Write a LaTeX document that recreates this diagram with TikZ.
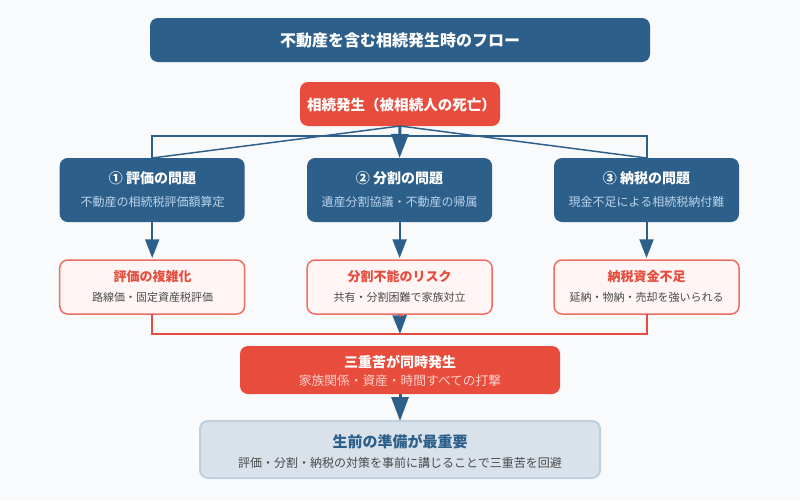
\documentclass[tikz,border=0pt]{standalone}
\usepackage{fontspec}
\setmainfont{Noto Sans CJK JP}
\usetikzlibrary{arrows.meta}
\definecolor{bgc}{HTML}{F8FAFC}
\definecolor{navy}{HTML}{2C5F8A}
\definecolor{redc}{HTML}{E74C3C}
\definecolor{pinkf}{HTML}{FFF5F5}
\definecolor{pinkb}{HTML}{EE6F62}
\definecolor{greyf}{HTML}{D9E2EA}
\definecolor{greyb}{HTML}{BFD0DE}
\definecolor{subblue}{HTML}{BBD3EA}
\definecolor{subred}{HTML}{FFCFC9}
\definecolor{subdark}{HTML}{4A4A4A}
\tikzset{
  box/.style 2 args={minimum width=#1*0.75pt,minimum height=#2*0.75pt,inner sep=0pt,outer sep=0pt,rounded corners=6pt},
  navybox/.style={fill=navy},
  redbox/.style={fill=redc},
  pinkbox/.style={fill=pinkf,draw=pinkb,line width=1.5pt*0.75},
  greybox/.style={fill=greyf,draw=greyb,line width=2pt*0.75},
  txt/.style={anchor=base,inner sep=0pt,outer sep=0pt},
  f16/.style={font=\fontsize{12}{14}\selectfont\bfseries},
  f15/.style={font=\fontsize{11.25}{14}\selectfont\bfseries},
  f145/.style={font=\fontsize{10.9}{14}\selectfont\bfseries},
  f14/.style={font=\fontsize{10.5}{14}\selectfont\bfseries},
  f13/.style={font=\fontsize{9.75}{14}\selectfont\bfseries},
  s13/.style={font=\fontsize{9.55}{14}\selectfont},
  s12/.style={font=\fontsize{9}{14}\selectfont},
  s11/.style={font=\fontsize{8.25}{14}\selectfont},
  bigarrow/.style={draw=navy,line width=2.25pt,-{Triangle[length=18pt,width=12.75pt]}},
  smallarrow/.style={draw=navy,line width=1.5pt,-{Triangle[length=14pt,width=10.5pt]}},
  joinarrow/.style={draw=navy,line width=1.5pt,-{Triangle[length=14pt,width=10.5pt]}},
  busline/.style={draw=navy,line width=1.5pt},
  diagline/.style={draw=navy,line width=1.1pt},
  redline/.style={draw=redc,line width=1.5pt},
}
\begin{document}
\begin{tikzpicture}[x=0.75pt,y=-0.75pt]
\useasboundingbox (0,0) rectangle (800,500);
\fill[bgc] (0,0) rectangle (800,500);

% boxes
\node[box={500}{44},navybox] (title) at (400,40) {};
\node[box={200}{44},redbox] (start) at (400,104) {};
\node[box={185}{64},navybox] (p1) at (152.2,190) {};
\node[box={185}{64},navybox] (p2) at (399.6,190) {};
\node[box={185}{64},navybox] (p3) at (646.5,190) {};
\node[box={185}{54},pinkbox] (r1) at (152.2,287) {};
\node[box={185}{54},pinkbox] (r2) at (399.6,287) {};
\node[box={185}{54},pinkbox] (r3) at (646.5,287) {};
\node[box={320}{48},redbox] (triple) at (400,370) {};
\node[box={400}{57},greybox] (prep) at (400,449.5) {};

% coordinates
\coordinate (bus) at (400,136);
\coordinate (join) at (400,334);

% connectors from the start
\draw[busline] (p1.north) |- (bus) -| (p3.north);
\draw[diagline] (start.south) -- (p1.north);
\draw[diagline] (start.south) -- (p3.north);
\draw[bigarrow] (start.south) -- (p2.north);

% to risks
\draw[smallarrow,shorten >=1.5pt] (p1.south) -- (r1.north);
\draw[smallarrow,shorten >=1.5pt] (p2.south) -- (r2.north);
\draw[smallarrow,shorten >=1.5pt] (p3.south) -- (r3.north);

% to triple
\draw[redline] (r1.south) |- (join) -| (r3.south);
\draw[joinarrow] (r2.south) -- (join);
\draw[redline] (r2.south) -- ++(0,3);
\draw[bigarrow] (triple.south) -- (prep.north);

% text
\node[txt,f16,text=white] (tTitle) at (400,46.2) {不動産を含む相続発生時のフロー};
\node[txt,f145,text=white] (tStart) at (401.5,110) {相続発生（被相続人の死亡）};

\node[txt,f14,text=white] (t1a) at (152.5,183) {① 評価の問題};
\node[txt,s12,text=subblue] (t1b) at (152.5,206.5) {不動産の相続税評価額算定};
\node[txt,f14,text=white] (t2a) at (399.5,183) {② 分割の問題};
\node[txt,s12,text=subblue] (t2b) at (399.5,206.5) {遺産分割協議・不動産の帰属};
\node[txt,f14,text=white] (t3a) at (646.5,183) {③ 納税の問題};
\node[txt,s12,text=subblue] (t3b) at (646.5,206.5) {現金不足による相続税納付難};

\node[txt,f13,text=redc] (u1a) at (152.5,281) {評価の複雑化};
\node[txt,s11,text=subdark] (u1b) at (152.5,301.2) {路線価・固定資産税評価};
\node[txt,f13,text=redc] (u2a) at (399.5,281) {分割不能のリスク};
\node[txt,s11,text=subdark] (u2b) at (399.5,301.2) {共有・分割困難で家族対立};
\node[txt,f13,text=redc] (u3a) at (646.5,281) {納税資金不足};
\node[txt,s11,text=subdark] (u3b) at (646.5,301.2) {延納・物納・売却を強いられる};

\node[txt,f14,text=white] (v1) at (400,367.3) {三重苦が同時発生};
\node[txt,s13,text=subred] (v2) at (400,385.6) {家族関係・資産・時間すべての打撃};
\node[txt,f15,text=navy] (w1) at (400,447.4) {生前の準備が最重要};
\node[txt,s12,text=subdark] (w2) at (400,467.3) {評価・分割・納税の対策を事前に講じることで三重苦を回避};
\end{tikzpicture}
\end{document}
